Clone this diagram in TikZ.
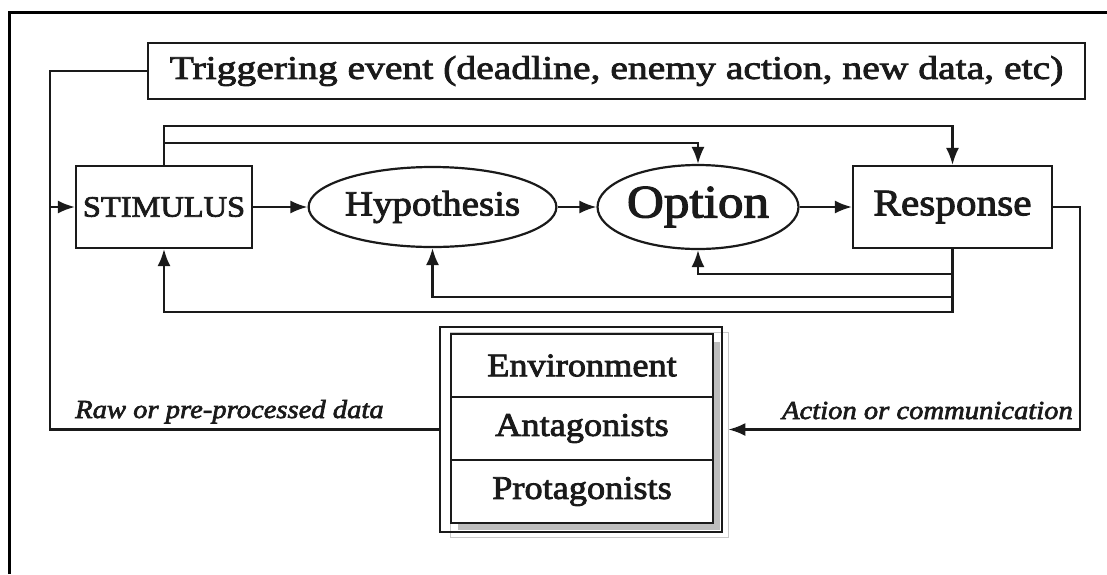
\documentclass[tikz,border=0pt]{standalone}
\usepackage{fontspec}
\setmainfont{Liberation Serif}[FakeStretch=1.1,FakeBold=2.5]
\newfontfamily\trigfont{Liberation Serif}[FakeStretch=1.2,FakeBold=2.5]
\usetikzlibrary{arrows.meta,shapes.geometric,calc}
\definecolor{ink}{HTML}{1A1A1A}
\definecolor{shadowgray}{HTML}{BDBDBD}
\definecolor{lightline}{HTML}{C8C8C8}
\newcommand{\fs}[1]{\fontsize{#1}{#1}\selectfont}
\begin{document}
\begin{tikzpicture}[x=1pt,y=-1pt,
  conn/.style={line width=2.2pt, draw=ink},
  arr/.style={conn, -{Latex[length=17pt,width=13pt]}},
  boxnode/.style={draw=ink, line width=2.2pt, rectangle, inner sep=0pt, text=ink},
  ellnode/.style={draw=ink, line width=2.2pt, ellipse, inner sep=0pt, text=ink},
  rownode/.style={draw=ink, line width=2.4pt, rectangle, fill=white, inner sep=0pt,
    minimum width=262pt, minimum height=63pt, text=ink, font=\fs{33}},
  lbl/.style={inner sep=0pt, text=ink, font=\fs{26}\itshape}
]
\useasboundingbox (0,0) rectangle (1107,574);
% frame
\draw[line width=3pt, black] (9.5,574) -- (9.5,12.5) -- (1107,12.5);

% nodes
\node[boxnode, minimum width=937pt, minimum height=56pt, font=\trigfont\fs{33}] (trig) at (616.5,71)
  {Triggering event (deadline, enemy action, new data, etc)};
\node[boxnode, minimum width=176pt, minimum height=82pt, font=\fs{29.5}] (stim) at (164,207) {STIMULUS};
\node[ellnode, minimum width=225pt, minimum height=80pt, font=\fs{35.4}] (hyp) at (432.5,207) {Hypothesis};
\node[ellnode, minimum width=180pt, minimum height=84pt, font=\fs{46.5}] (opt) at (698,207) {Option};
\node[boxnode, minimum width=199pt, minimum height=82pt, font=\fs{37.5}] (resp) at (952.5,207) {Response};

% environment box with shadow
\node[draw=lightline, line width=0.8pt, rectangle, inner sep=0pt,
  minimum width=278pt, minimum height=205pt] (envshadow) at (589,434.5) {};
\fill[shadowgray] (458,342) rectangle (720,530);
\node[draw=ink, line width=2.4pt, rectangle, inner sep=0pt,
  minimum width=282pt, minimum height=205pt] (envbox) at (581,429.5) {};
\node[rownode] (envr) at (582,365.5) {Environment};
\node[rownode] (antr) at (582,428.5) {Antagonists};
\node[rownode] (pror) at (582,491.5) {Protagonists};

% coordinates
\coordinate (L) at (50,429.5);
\coordinate (R) at (1080,429.5);
\coordinate (t1) at (164,126);
\coordinate (t2) at (164,143);
\coordinate (yb1) at (0,274);
\coordinate (yb2) at (0,297);
\coordinate (yb3) at (0,312);

% left feed
\draw[conn] (trig.west) -| (L) -- (envbox.west);
\draw[arr] (stim.west -| L) -- (stim.west);

% main chain
\draw[arr] (stim.east) -- (hyp.west);
\draw[arr] (hyp.east) -- (opt.west);
\draw[arr] (opt.east) -- (resp.west);

% top feed-forward
\draw[arr] (stim.north) -- (t1) -| (resp.north);
\draw[arr] (t2) -| (opt.north);

% bottom feedback
\draw[arr] (resp.south) -- (resp.south |- yb3) -| (stim.south);
\draw[arr] (resp.south |- yb2) -| (hyp.south);
\draw[arr] (resp.south |- yb1) -| (opt.south);

% right feed
\draw[arr] (resp.east) -| (R) -- (envbox.east -| envshadow.east);

% labels
\node[lbl, anchor=base west] (rawlbl) at (75,418) {Raw or pre-processed data};
\node[lbl, anchor=base east] (actlbl) at (1073,419) {Action or communication};
\end{tikzpicture}
\end{document}
